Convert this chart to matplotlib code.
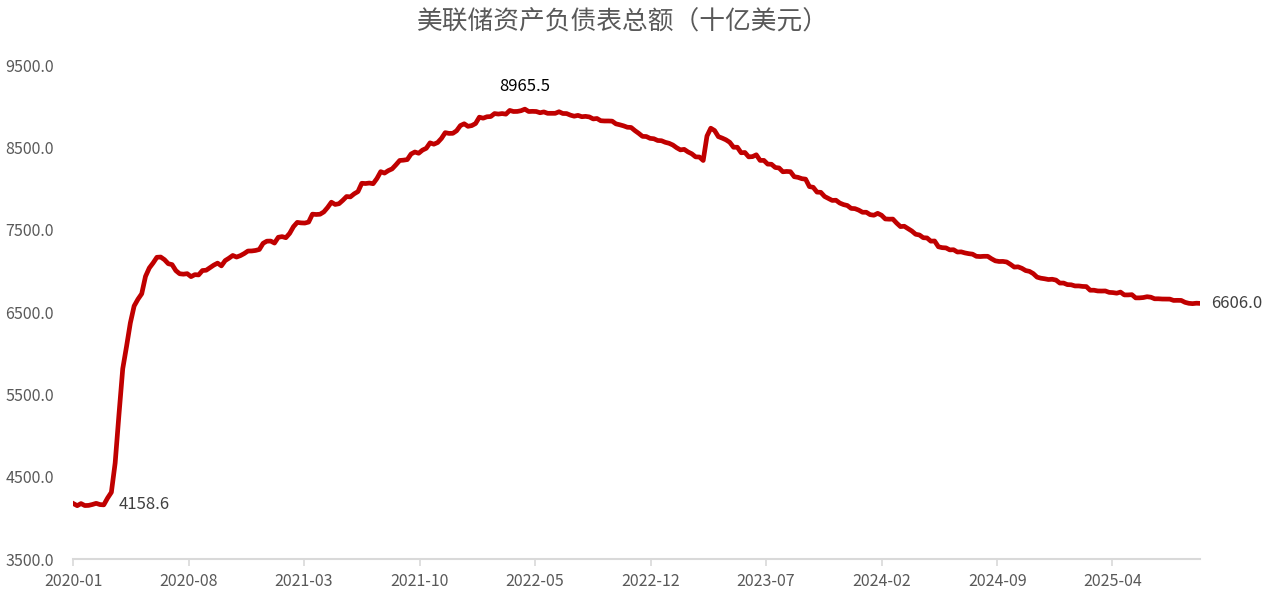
import pandas as pd
import numpy as np
import matplotlib
matplotlib.use("Agg")
import matplotlib.pyplot as plt
import matplotlib.dates as mdates
from matplotlib.ticker import FormatStrFormatter

plt.rcParams['font.family'] = ['Noto Sans CJK SC', 'DejaVu Sans']

# weekly total assets (billion USD), every Wednesday from 2020-01-01
vals_2020 = [4173.6, 4148.7, 4173.9, 4150.0, 4152.0,
             4163.0, 4177.0, 4162.0, 4158.6,
             4241.0, 4311.0, 4667.0, 5254.0,
             5813.0, 6083.0, 6368.0, 6574.0, 6656.0,
             6723.0, 6934.0, 7036.0, 7097.0,
             7166.0, 7169.0, 7137.0, 7088.0,
             7077.0, 7004.0, 6966.0, 6961.0, 6967.0,
             6931.0, 6955.0, 6952.0, 7005.0,
             7009.0, 7040.0, 7071.0, 7095.0, 7062.0,
             7126.0, 7155.0, 7188.0, 7169.0,
             7186.0, 7211.0, 7242.0, 7243.0,
             7249.0, 7261.0, 7336.0, 7362.0, 7363.0]
vals_2021 = [7339.0, 7409.0, 7417.0, 7404.0,
             7457.0, 7538.0, 7590.0, 7584.0,
             7582.0, 7594.0, 7690.0, 7686.0, 7689.0,
             7717.0, 7771.0, 7835.0, 7808.0,
             7817.0, 7858.0, 7904.0, 7900.0,
             7937.0, 7964.0, 8065.0, 8062.0, 8068.0,
             8060.0, 8123.0, 8206.0, 8189.0,
             8219.0, 8240.0, 8289.0, 8342.0,
             8346.0, 8353.0, 8421.0, 8445.0, 8430.0,
             8468.0, 8490.0, 8556.0, 8540.0,
             8560.0, 8610.0, 8680.0, 8671.0,
             8672.0, 8703.0, 8766.0, 8788.0, 8757.0]
vals_2022 = [8766.0, 8791.0, 8868.0, 8856.0,
             8873.0, 8876.0, 8912.0, 8906.0,
             8912.0, 8905.0, 8950.0, 8937.0, 8938.0,
             8947.0, 8965.5, 8937.0, 8939.0,
             8937.0, 8922.0, 8932.0, 8915.0,
             8915.0, 8915.0, 8934.0, 8913.0, 8912.0,
             8893.0, 8880.0, 8890.0, 8874.0,
             8878.0, 8871.0, 8847.0, 8852.0, 8825.0,
             8822.0, 8822.0, 8820.0, 8787.0,
             8776.0, 8763.0, 8746.0, 8743.0,
             8705.0, 8672.0, 8635.0, 8633.0, 8611.0,
             8606.0, 8585.0, 8582.0, 8563.0]
vals_2023 = [8551.0, 8530.0, 8497.0, 8471.0,
             8477.0, 8446.0, 8423.0, 8386.0,
             8384.0, 8342.0, 8639.0, 8734.0, 8706.0,
             8632.0, 8614.0, 8593.0, 8563.0,
             8503.0, 8503.0, 8436.0, 8439.0, 8386.0,
             8389.0, 8411.0, 8343.0, 8343.0,
             8298.0, 8296.0, 8257.0, 8251.0,
             8205.0, 8209.0, 8206.0, 8145.0, 8137.0,
             8121.0, 8115.0, 8025.0, 8016.0,
             7958.0, 7955.0, 7905.0, 7881.0,
             7857.0, 7859.0, 7825.0, 7806.0, 7795.0,
             7760.0, 7757.0, 7739.0, 7713.0]
vals_2024 = [7713.0, 7684.0, 7677.0, 7700.0, 7677.0,
             7632.0, 7629.0, 7630.0, 7581.0,
             7539.0, 7543.0, 7514.0, 7485.0,
             7446.0, 7437.0, 7404.0, 7401.0,
             7362.0, 7364.0, 7294.0, 7283.0, 7280.0,
             7256.0, 7258.0, 7230.0, 7232.0,
             7219.0, 7210.0, 7204.0, 7178.0, 7175.0,
             7178.0, 7178.0, 7148.0, 7123.0,
             7115.0, 7116.0, 7109.0, 7080.0,
             7047.0, 7050.0, 7032.0, 7005.0, 6995.0,
             6968.0, 6925.0, 6912.0, 6905.0,
             6896.0, 6899.0, 6889.0, 6853.0]
vals_2025 = [6853.0, 6834.0, 6832.0, 6818.0, 6818.0,
             6812.0, 6810.0, 6766.0, 6766.0,
             6757.0, 6756.0, 6757.0, 6740.0,
             6737.0, 6730.0, 6743.0, 6709.0, 6709.0,
             6712.0, 6673.0, 6673.0, 6677.0,
             6687.0, 6681.0, 6662.0, 6662.0,
             6659.0, 6658.0, 6658.0, 6642.0, 6643.0,
             6642.0, 6619.0, 6607.0, 6603.0,
             6608.0, 6606.0]

values = vals_2020 + vals_2021 + vals_2022 + vals_2023 + vals_2024 + vals_2025
dates = pd.date_range("2020-01-01", periods=len(values), freq="7D")
df = pd.DataFrame({"date": dates, "total": values})

tick_labels = ["2020-01", "2020-08", "2021-03", "2021-10", "2022-05",
               "2022-12", "2023-07", "2024-02", "2024-09", "2025-04"]
pre_covid_date = "2020-02-26"

fig = plt.figure(figsize=(12.66, 6.09), dpi=100)
ax = fig.add_axes([0.058, 0.082, 0.890, 0.811])

ax.plot(df["date"], df["total"], color="#C00000", lw=3.4, solid_joinstyle="round")

ax.set_ylim(3500, 9500)
ax.set_yticks(np.arange(3500, 9501, 1000))
ax.yaxis.set_major_formatter(FormatStrFormatter("%.1f"))
ax.set_xlim(df["date"].iloc[0], df["date"].iloc[-1])
ax.set_xticks(pd.to_datetime(tick_labels))
ax.xaxis.set_major_formatter(mdates.DateFormatter("%Y-%m"))

for s in ["top", "right", "left"]:
    ax.spines[s].set_visible(False)
ax.spines["bottom"].set_color("#D9D9D9")
ax.spines["bottom"].set_linewidth(1.5)
ax.tick_params(axis="x", colors="#595959", labelsize=11.5, length=5, width=1.2,
               color="#D9D9D9", pad=5)
ax.tick_params(axis="y", colors="#595959", labelsize=11.5, length=0, pad=14)

# labels: peak, pre-covid level, latest
imax = df["total"].idxmax()
ax.annotate(f"{df['total'][imax]:.1f}", (df["date"][imax], df["total"][imax]),
            xytext=(0, 16), textcoords="offset points", ha="center", va="center",
            fontsize=12, color="black")
ipre = df.index[df["date"] == pd.Timestamp(pre_covid_date)][0]
ax.annotate(f"{df['total'][ipre]:.1f}", (df["date"][ipre], df["total"][ipre]),
            xytext=(11, 0), textcoords="offset points", ha="left", va="center",
            fontsize=12, color="#404040")
ilast = df.index[-1]
ax.annotate(f"{df['total'][ilast]:.1f}", (df["date"][ilast], df["total"][ilast]),
            xytext=(8, 0), textcoords="offset points", ha="left", va="center",
            fontsize=12, color="#404040", annotation_clip=False)

fig.text(0.492, 0.963, "美联储资产负债表总额（十亿美元）", ha="center", va="center",
         fontsize=18.5, color="#595959", fontweight="light")

fig.savefig("out.png", dpi=100)
